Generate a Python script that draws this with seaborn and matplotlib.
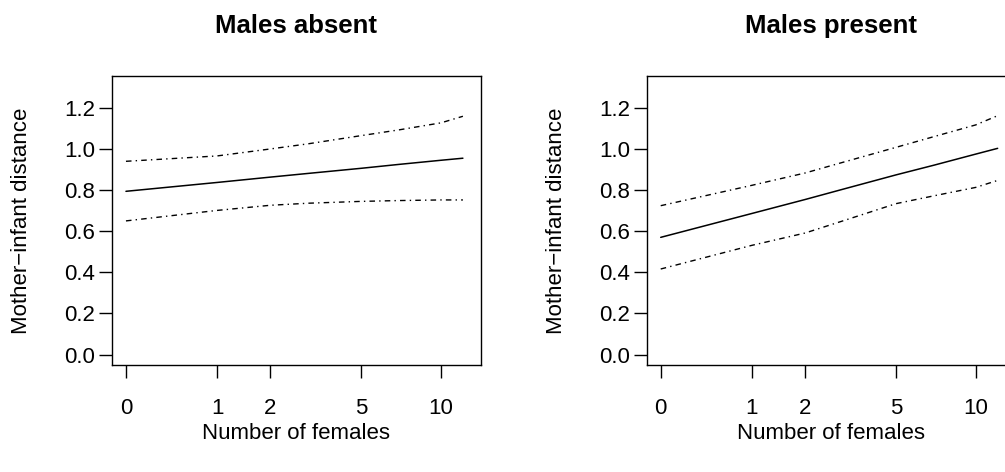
import numpy as np
import pandas as pd
import matplotlib
matplotlib.use("Agg")
import matplotlib.pyplot as plt
import seaborn as sns

# ---- data ----
females = [0, 1, 2, 3, 5, 7, 10, 12]

absent_fit   = [0.794, 0.837, 0.863, 0.881, 0.906, 0.925, 0.945, 0.955]
absent_upper = [0.940, 0.966, 1.000, 1.025, 1.065, 1.093, 1.127, 1.159]
absent_lower = [0.650, 0.701, 0.726, 0.736, 0.745, 0.749, 0.752, 0.752]

present_fit   = [0.570, 0.686, 0.754, 0.804, 0.874, 0.921, 0.975, 1.003]
present_upper = [0.724, 0.823, 0.883, 0.935, 1.008, 1.060, 1.117, 1.162]
present_lower = [0.416, 0.531, 0.591, 0.650, 0.734, 0.772, 0.813, 0.847]

titles = ["Males absent", "Males present"]
x_ticks = [0, 1, 2, 5, 10]
x_tick_labels = ["0", "1", "2", "5", "10"]
y_ticks = [0.0, 0.2, 0.4, 0.6, 0.8, 1.0, 1.2]
y_tick_labels = ["0.0", "0.2", "0.4", "0.6", "0.8", "1.0", "1.2"]
x_label = "Number of females"
y_label = "Mother\u2212infant distance"

# ---- style ----
sns.set_style("white")
plt.rcParams["font.family"] = ["Liberation Sans", "DejaVu Sans"]
plt.rcParams.update({"text.color": "black", "axes.labelcolor": "black",
                     "xtick.color": "black", "ytick.color": "black",
                     "axes.edgecolor": "black"})

fig = plt.figure(figsize=(10.05, 4.72), dpi=100)
positions = [[0.1114, 0.2267, 0.3672, 0.6123],
             [0.6435, 0.2267, 0.3672, 0.6123]]

panels = [(absent_fit, absent_upper, absent_lower),
          (present_fit, present_upper, present_lower)]

fwd = lambda v: np.log(np.asarray(v, dtype=float) + 1.0)
inv = lambda v: np.exp(np.asarray(v, dtype=float)) - 1.0

dashdot = (0, (4, 3, 1, 3))

for pos, title, (fit, up, lo) in zip(positions, titles, panels):
    ax = fig.add_axes(pos)
    df = pd.DataFrame({"females": females, "fit": fit, "upper": up, "lower": lo})
    sns.lineplot(data=df, x="females", y="fit", ax=ax, color="black",
                 lw=1.1, estimator=None, errorbar=None)
    sns.lineplot(data=df, x="females", y="upper", ax=ax, color="black",
                 lw=1.0, linestyle=dashdot, estimator=None, errorbar=None)
    sns.lineplot(data=df, x="females", y="lower", ax=ax, color="black",
                 lw=1.0, linestyle=dashdot, estimator=None, errorbar=None)

    ax.set_xscale("function", functions=(fwd, inv))
    ax.set_xlim(-0.1011, 13.92)
    ax.set_ylim(-0.051, 1.355)

    ax.set_xticks(x_ticks)
    ax.set_xticklabels(x_tick_labels)
    ax.set_yticks(y_ticks)
    ax.set_yticklabels(y_tick_labels)
    ax.xaxis.set_minor_locator(matplotlib.ticker.NullLocator())

    ax.tick_params(axis="x", direction="out", length=9.5, width=1.0,
                   pad=14.5, labelsize=16, color="black", labelcolor="black",
                   bottom=True)
    ax.tick_params(axis="y", direction="out", length=9.5, width=1.0,
                   pad=2.5, labelsize=16, color="black", labelcolor="black",
                   left=True)

    for sp in ax.spines.values():
        sp.set_visible(True)
        sp.set_color("black")
        sp.set_linewidth(1.0)

    ax.set_xlabel(x_label, fontsize=16, labelpad=3, color="black")
    ax.set_ylabel(y_label, fontsize=16, labelpad=23, color="black")
    ax.set_title(title, fontsize=18.5, fontweight="bold", pad=31, color="black")
    ax.grid(False)

fig.savefig("out.png", dpi=100)
